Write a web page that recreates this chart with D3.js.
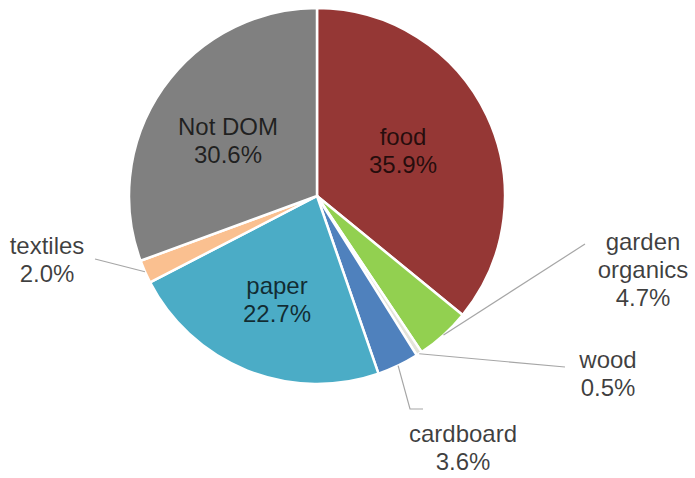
<!DOCTYPE html>
<html>
<head>
<meta charset="utf-8">
<script src="https://cdn.jsdelivr.net/npm/d3@7"></script>
<style>
  html, body { margin: 0; padding: 0; background: #fff; }
  svg { display: block; }
  text { font-family: "Liberation Sans", Arial, sans-serif; font-size: 24px; fill: #000; fill-opacity: 0.75; }
</style>
</head>
<body>
<svg id="chart" width="695" height="478"></svg>
<script>
// Waste composition shares (percent), clockwise from 12 o'clock
const categories = ["food", "garden organics", "wood", "cardboard", "paper", "textiles", "Not DOM"];
const shares = [35.9, 4.7, 0.5, 3.6, 22.7, 2.0, 30.6];
const sliceColors = ["#953735", "#92D050", "#E4E4DA", "#4F81BD", "#4BACC6", "#FAC090", "#808080"];
// Label text lines per category
const labelLines = [
  ["food", "35.9%"],
  ["garden", "organics", "4.7%"],
  ["wood", "0.5%"],
  ["cardboard", "3.6%"],
  ["paper", "22.7%"],
  ["textiles", "2.0%"],
  ["Not DOM", "30.6%"]
];

const svg = d3.select("#chart");
const cx = 317, cy = 196, radius = 188;
const g = svg.append("g").attr("transform", `translate(${cx},${cy})`);

const data = categories.map((c, i) => ({ name: c, value: shares[i], color: sliceColors[i], lines: labelLines[i] }));

const pie = d3.pie().value(d => d.value).sort(null);
const arcs = pie(data);
const arc = d3.arc().innerRadius(0).outerRadius(radius);

g.selectAll("path.slice")
  .data(arcs)
  .join("path")
  .attr("class", "slice")
  .attr("d", arc)
  .attr("fill", d => d.data.color)
  .attr("stroke", "#fff")
  .attr("stroke-width", 2.5)
  .attr("stroke-linejoin", "round");

// Label block centres, relative to the pie centre
const lineH = 28;
const labelPos = {
  "food": [86, -45],
  "garden organics": [326, 74],
  "wood": [291, 178],
  "cardboard": [146, 252],
  "paper": [-40, 104],
  "textiles": [-270, 64],
  "Not DOM": [-89, -55]
};
// Leader lines for the small outer slices: from the slice edge to the label
const leaders = {
  "garden organics": { pts: [[268, 48]] },
  "wood": { pts: [[248, 171]] },
  "cardboard": { pts: [[93, 213], [106, 213]] },
  "textiles": { pts: [[-222, 63]] }
};

const leadG = g.append("g");
arcs.forEach(a => {
  const L = leaders[a.data.name];
  if (!L) return;
  const mid = (a.startAngle + a.endAngle) / 2;
  const start = [Math.sin(mid) * radius, -Math.cos(mid) * radius];
  leadG.append("path")
    .attr("d", d3.line()([start, ...L.pts]))
    .attr("fill", "none")
    .attr("stroke", "#a6a6a6")
    .attr("stroke-width", 1.2);
});

const labelG = g.append("g");
arcs.forEach(a => {
  const [x, y] = labelPos[a.data.name];
  const lines = a.data.lines;
  const t = labelG.append("text")
    .attr("text-anchor", "middle")
    .attr("x", x)
    .attr("y", y - (lines.length - 1) * lineH / 2);
  lines.forEach((ln, i) => {
    t.append("tspan").attr("x", x).attr("dy", i === 0 ? "0.35em" : lineH).text(ln);
  });
});
</script>
</body>
</html>
